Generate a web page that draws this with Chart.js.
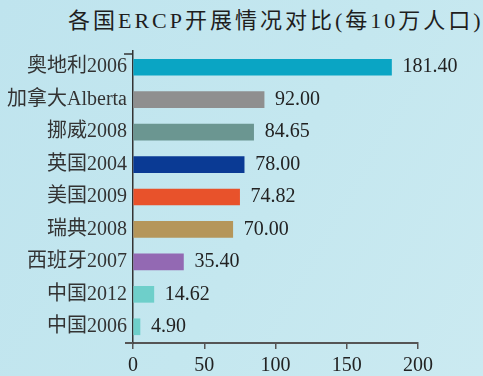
<!DOCTYPE html>
<html>
<head>
<meta charset="utf-8">
<script src="https://cdn.jsdelivr.net/npm/chart.js@4.4.1/dist/chart.umd.min.js"></script>
<style>
  html, body { margin: 0; padding: 0; }
  #wrap {
    position: relative;
    width: 483px;
    height: 376px;
    background: linear-gradient(120deg, #bfe4ee 0%, #c4e7ef 55%, #cbeaf1 100%);
    overflow: hidden;
  }
  #title {
    position: absolute;
    left: 68px;
    top: 2px;
    font: 22px 'Liberation Serif', 'Noto Sans CJK SC', serif;
    letter-spacing: 3px;
    color: #1e1e1e;
    white-space: nowrap;
  }
  canvas { position: absolute; left: 0; top: 0; }
</style>
</head>
<body>
<div id="wrap">
  <div id="title">各国ERCP开展情况对比(每10万人口)</div>
  <canvas id="chart" width="483" height="376"></canvas>
</div>
<script>
const categories = ['奥地利2006', '加拿大Alberta', '挪威2008', '英国2004', '美国2009',
  '瑞典2008', '西班牙2007', '中国2012', '中国2006'];
const values = [181.40, 92.00, 84.65, 78.00, 74.82, 70.00, 35.40, 14.62, 4.90];
const barColors = ['#0aa5c4', '#8f8f8f', '#6b9691', '#0a3a94', '#e8522b',
  '#b5965a', '#9369b3', '#6ecfca', '#6ecfca'];
const xTicks = [0, 50, 100, 150, 200];

const serif = "'Liberation Serif', 'Noto Sans CJK SC', serif";

// number printed after each bar
const valueLabels = {
  id: 'valueLabels',
  afterDatasetsDraw(chart) {
    const ctx = chart.ctx;
    const meta = chart.getDatasetMeta(0);
    ctx.save();
    ctx.font = '20px ' + serif;
    ctx.fillStyle = '#222';
    ctx.textAlign = 'left';
    ctx.textBaseline = 'middle';
    meta.data.forEach((bar, i) => {
      ctx.fillText(values[i].toFixed(2), bar.x + 11, bar.y);
    });
    ctx.restore();
  }
};

// little extras on the axes: x line runs a bit past the y axis, small cap on top of y axis
const axisExtras = {
  id: 'axisExtras',
  afterDraw(chart) {
    const {ctx, chartArea} = chart;
    ctx.save();
    ctx.strokeStyle = '#555';
    ctx.lineWidth = 2;
    ctx.beginPath();
    ctx.moveTo(chartArea.left - 8, chartArea.bottom);
    ctx.lineTo(chartArea.left, chartArea.bottom);
    ctx.stroke();
    ctx.strokeStyle = '#333';
    ctx.lineWidth = 1.5;
    ctx.beginPath();
    ctx.moveTo(chartArea.left - 9, chartArea.top + 3);
    ctx.lineTo(chartArea.left, chartArea.top + 3);
    ctx.stroke();
    ctx.restore();
  }
};

new Chart(document.getElementById('chart'), {
  type: 'bar',
  data: {
    labels: categories,
    datasets: [{
      data: values,
      backgroundColor: barColors,
      barThickness: 16
    }]
  },
  options: {
    indexAxis: 'y',
    responsive: false,
    animation: false,
    layout: {padding: {top: 51, right: 65, bottom: 0, left: 0}},
    plugins: {
      legend: {display: false},
      tooltip: {enabled: false}
    },
    scales: {
      x: {
        min: 0,
        max: 200,
        afterBuildTicks: (s) => { s.ticks = xTicks.map(v => ({value: v})); },
        afterFit: (s) => { s.height = 33; },
        ticks: {
          font: {size: 20, family: serif},
          color: '#222',
          padding: 5
        },
        grid: {
          drawOnChartArea: false,
          drawTicks: true,
          tickLength: 6,
          color: '#555',
          lineWidth: 1.5
        },
        border: {color: '#555', width: 2}
      },
      y: {
        afterFit: (s) => { s.width = 133; },
        ticks: {
          font: {size: 20, family: serif},
          color: '#333',
          padding: 6
        },
        grid: {
          drawOnChartArea: false,
          drawTicks: false
        },
        border: {color: '#333', width: 1.5}
      }
    }
  },
  plugins: [valueLabels, axisExtras]
});
</script>
</body>
</html>
